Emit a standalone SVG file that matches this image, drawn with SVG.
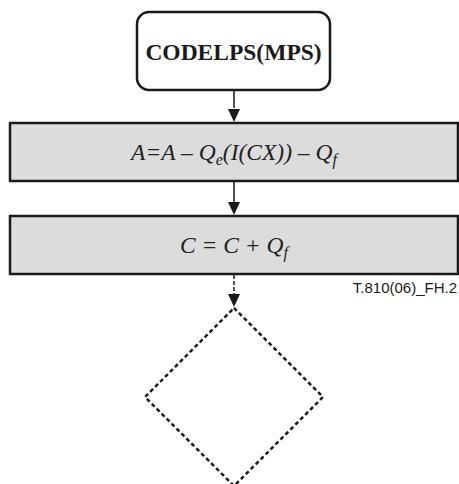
<svg xmlns="http://www.w3.org/2000/svg" width="459" height="484" viewBox="0 0 459 484">
<style>
.box{fill:#dcdcdc;stroke:#1a1a1a;stroke-width:2.5}
.term{fill:#fff;stroke:#1a1a1a;stroke-width:2.5}
.math{font-family:"Liberation Serif","Times New Roman",serif;font-style:italic;font-size:23.5px;fill:#222}
.title{font-family:"Liberation Serif","Times New Roman",serif;font-weight:bold;font-size:23.5px;fill:#1a1a1a}
.lbl{font-family:"Liberation Sans",Arial,sans-serif;font-size:15px;fill:#1a1a1a}
.conn{stroke:#1a1a1a;stroke-width:1.5;fill:none}
.dash{stroke:#1a1a1a;stroke-width:1.5;fill:none;stroke-dasharray:4,2}
.dia{fill:none;stroke:#1a1a1a;stroke-width:2.5;stroke-dasharray:4,3}
</style>
<g id="connectors">
<line class="conn" x1="234" y1="90" x2="234" y2="108"/>
<path d="M228,109 L240,109 L234,122 Z" fill="#1a1a1a"/>
<line class="conn" x1="234" y1="182" x2="234" y2="202"/>
<path d="M228,202 L240,202 L234,215 Z" fill="#1a1a1a"/>
<line class="dash" x1="234" y1="275" x2="234" y2="295"/>
<path d="M228,294 L240,294 L234,307 Z" fill="#1a1a1a"/>
</g>
<g id="start">
<rect class="term" x="137" y="12" width="193" height="78" rx="12" ry="12"/>
<text class="title" x="233.5" y="60" text-anchor="middle">CODELPS(MPS)</text>
</g>
<g id="step1">
<rect class="box" x="10" y="123" width="448" height="58"/>
<text class="math" x="234" y="160" text-anchor="middle">A=A – Q<tspan dy="5" font-size="16">e</tspan><tspan dy="-5">(I(CX)) – Q</tspan><tspan dy="5" font-size="16">f</tspan></text>
</g>
<g id="step2">
<rect class="box" x="10" y="216" width="448" height="58"/>
<text class="math" x="234" y="253" text-anchor="middle">C = C + Q<tspan dy="5" font-size="16">f</tspan></text>
</g>
<g id="decision">
<polygon class="dia" points="234,308 323,397 234,486 145,397"/>
</g>
<text class="lbl" x="457" y="293" text-anchor="end">T.810(06)_FH.2</text>
</svg>
